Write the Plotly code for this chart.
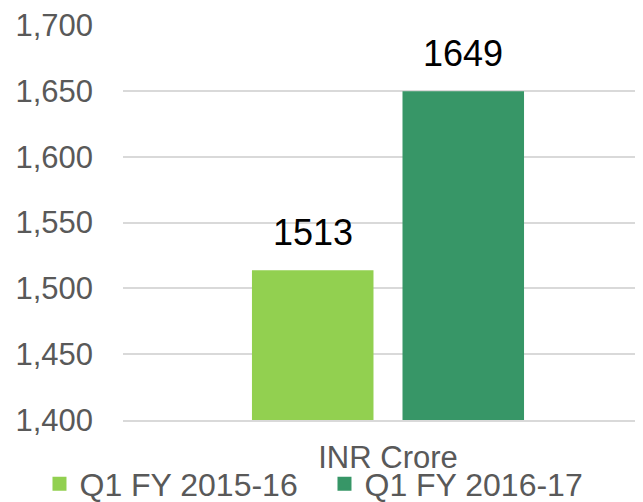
import plotly.graph_objects as go

categories = ["INR Crore"]
series_names = ["Q1 FY 2015-16", "Q1 FY 2016-17"]
series_values = [[1513], [1649]]
colors = ["#92D050", "#379667"]
tick_vals = [1400, 1450, 1500, 1550, 1600, 1650, 1700]
tick_text = ["1,400", "1,450", "1,500", "1,550", "1,600", "1,650", "1,700"]

BARGAP = 0.421
GROUPGAP = 0.206

fig = go.Figure()
n = len(series_names)
slot = (1 - BARGAP) / n
for i, (name, vals, col) in enumerate(zip(series_names, series_values, colors)):
    fig.add_trace(go.Bar(
        x=categories, y=vals, name=name, marker_color=col,
        marker_line=dict(color=col, width=2),
    ))
    off = -(1 - BARGAP) / 2 + slot * (i + 0.5)
    for j, v in enumerate(vals):
        fig.add_annotation(
            x=j + off, y=v, xref="x", yref="y", text=str(v),
            showarrow=False, yanchor="bottom", yshift=16,
            font=dict(size=36, color="#000000"),
        )

fig.update_layout(
    width=635, height=494,
    margin=dict(l=115, r=0, t=17, b=82, autoexpand=False),
    paper_bgcolor="white", plot_bgcolor="white",
    font=dict(family="Liberation Sans, Arial, sans-serif", size=31, color="#595959"),
    barmode="group", bargap=BARGAP, bargroupgap=GROUPGAP,
    showlegend=True,
    legend=dict(orientation="h", x=-0.1606, xanchor="left", y=-0.162, yanchor="middle",
                font=dict(size=32, color="#595959"), bgcolor="rgba(0,0,0,0)",
                itemwidth=30, entrywidth=240, traceorder="normal"),
    yaxis=dict(range=[1400, 1700], tickvals=tick_vals, ticktext=tick_text,
               showgrid=True, gridcolor="#D9D9D9", gridwidth=1.5,
               zeroline=False, showline=False, ticklabelstandoff=29,
               ticklabeloverflow="allow",
               tickfont=dict(size=31, color="#595959")),
    xaxis=dict(range=[-0.5096, 0.4904], showgrid=False, showline=True,
               linecolor="#D9D9D9", linewidth=1.5, ticks="", ticklabelstandoff=9,
               tickfont=dict(size=31, color="#595959")),
)

fig.write_html("out.html")
